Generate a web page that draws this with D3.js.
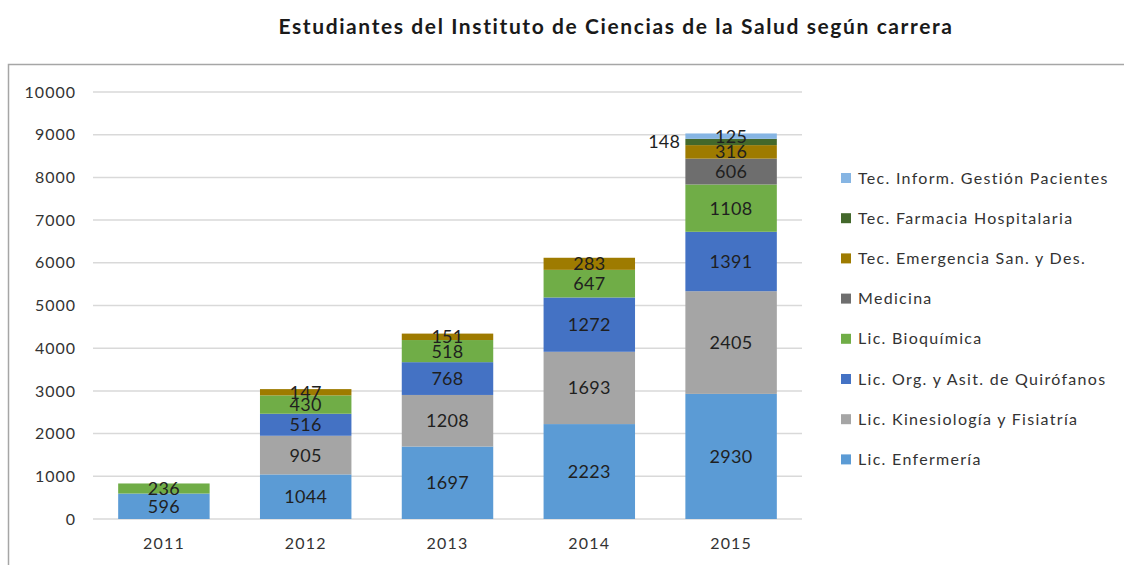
<!DOCTYPE html>
<html>
<head>
<meta charset="utf-8">
<script src="https://cdn.jsdelivr.net/npm/d3@7"></script>
<style>
  body { margin: 0; background: #fff; }
  svg { font-family: Lato, "Open Sans", sans-serif; }
</style>
</head>
<body>
<svg id="chart" width="1124" height="565"></svg>
<script>
var years = ["2011", "2012", "2013", "2014", "2015"];
var careers = [
    "Lic. Enfermería",
    "Lic. Kinesiología y Fisiatría",
    "Lic. Org. y Asit. de Quirófanos",
    "Lic. Bioquímica",
    "Medicina",
    "Tec. Emergencia San. y Des.",
    "Tec. Farmacia Hospitalaria",
    "Tec. Inform. Gestión Pacientes"
];
var enfermeria   = [596, 1044, 1697, 2223, 2930];
var kinesiologia = [0, 905, 1208, 1693, 2405];
var quirofanos   = [0, 516, 768, 1272, 1391];
var bioquimica   = [236, 430, 518, 647, 1108];
var medicina     = [0, 0, 0, 0, 606];
var emergencia   = [0, 147, 151, 283, 316];
var farmacia     = [0, 0, 0, 0, 148];
var informatica  = [0, 0, 0, 0, 125];
var colors = ["#5b9bd5", "#a5a5a5", "#4472c4", "#70ad47", "#6e6e6e", "#9e7b00", "#43682b", "#86b5e3"];
var yTicks = [0, 1000, 2000, 3000, 4000, 5000, 6000, 7000, 8000, 9000, 10000];

var series = [enfermeria, kinesiologia, quirofanos, bioquimica, medicina, emergencia, farmacia, informatica];
var rows = years.map(function(y, i) {
    var r = { year: y };
    careers.forEach(function(c, k) { r[c] = series[k][i]; });
    return r;
});
var stacked = d3.stack().keys(careers)(rows);

var svg = d3.select("#chart");

// frame
svg.append("path")
    .attr("d", "M8.5,565 V64.5 H1124")
    .attr("fill", "none")
    .attr("stroke", "#a6a6a6")
    .attr("stroke-width", 1.5);

svg.append("text")
    .attr("x", 616).attr("y", 34)
    .attr("text-anchor", "middle")
    .attr("font-size", 21).attr("font-weight", "bold")
    .attr("letter-spacing", 1.6)
    .attr("fill", "#1a1a1a")
    .text("Estudiantes del Instituto de Ciencias de la Salud según carrera");

var x = d3.scaleBand().domain(years).range([93, 802]).paddingInner(0.355).paddingOuter(0.1775);
var y = d3.scaleLinear().domain([0, 10000]).range([519, 92]);

// grid
svg.append("g").selectAll("line")
    .data(yTicks).enter().append("line")
    .attr("x1", 93).attr("x2", 802)
    .attr("y1", function(d) { return y(d); })
    .attr("y2", function(d) { return y(d); })
    .attr("stroke", "#d9d9d9").attr("stroke-width", 1.5);

var yAxis = svg.append("g")
    .attr("transform", "translate(76,0)")
    .call(d3.axisLeft(y).tickValues(yTicks).tickSize(0).tickPadding(0).tickFormat(d3.format("d")));
yAxis.select(".domain").remove();
yAxis.selectAll("text").attr("font-size", 16).attr("letter-spacing", 1).attr("fill", "#333").attr("font-family", "Lato, sans-serif");

var xAxis = svg.append("g")
    .attr("transform", "translate(0,519)")
    .call(d3.axisBottom(x).tickSize(0).tickPadding(19));
xAxis.select(".domain").remove();
xAxis.selectAll("text").attr("font-size", 16).attr("letter-spacing", 1.2).attr("fill", "#333").attr("font-family", "Lato, sans-serif");

// bars
var layers = svg.append("g").selectAll("g")
    .data(stacked).enter().append("g")
    .attr("fill", function(d, i) { return colors[i]; });

layers.selectAll("rect")
    .data(function(d) { return d.filter(function(p) { return p[1] > p[0]; }); })
    .enter().append("rect")
    .attr("x", function(d) { return x(d.data.year); })
    .attr("width", x.bandwidth())
    .attr("y", function(d) { return y(d[1]); })
    .attr("height", function(d) { return y(d[0]) - y(d[1]); });

// value labels
stacked.forEach(function(layer) {
    var outside = layer.key === "Tec. Farmacia Hospitalaria";
    svg.append("g").selectAll("text")
        .data(layer.filter(function(p) { return p[1] > p[0]; }))
        .enter().append("text")
        .attr("x", function(d) { return outside ? x(d.data.year) - 5 : x(d.data.year) + x.bandwidth() / 2; })
        .attr("y", function(d) { return y((d[0] + d[1]) / 2); })
        .attr("dy", "0.36em")
        .attr("text-anchor", outside ? "end" : "middle")
        .attr("font-size", 18)
        .attr("letter-spacing", 0.3)
        .attr("fill", "#1f1f1f")
        .text(function(d) { return d[1] - d[0]; });
});

// legend
var legend = svg.append("g").selectAll("g")
    .data(careers.slice().reverse()).enter().append("g")
    .attr("transform", function(d, i) { return "translate(841," + (178 + i * 40.2) + ")"; });
legend.append("rect")
    .attr("x", 0).attr("y", -5).attr("width", 10).attr("height", 10)
    .attr("fill", function(d) { return colors[careers.indexOf(d)]; });
legend.append("text")
    .attr("x", 17).attr("dy", "0.35em")
    .attr("font-size", 16).attr("letter-spacing", 1.3).attr("fill", "#333")
    .text(function(d) { return d; });
</script>
</body>
</html>
